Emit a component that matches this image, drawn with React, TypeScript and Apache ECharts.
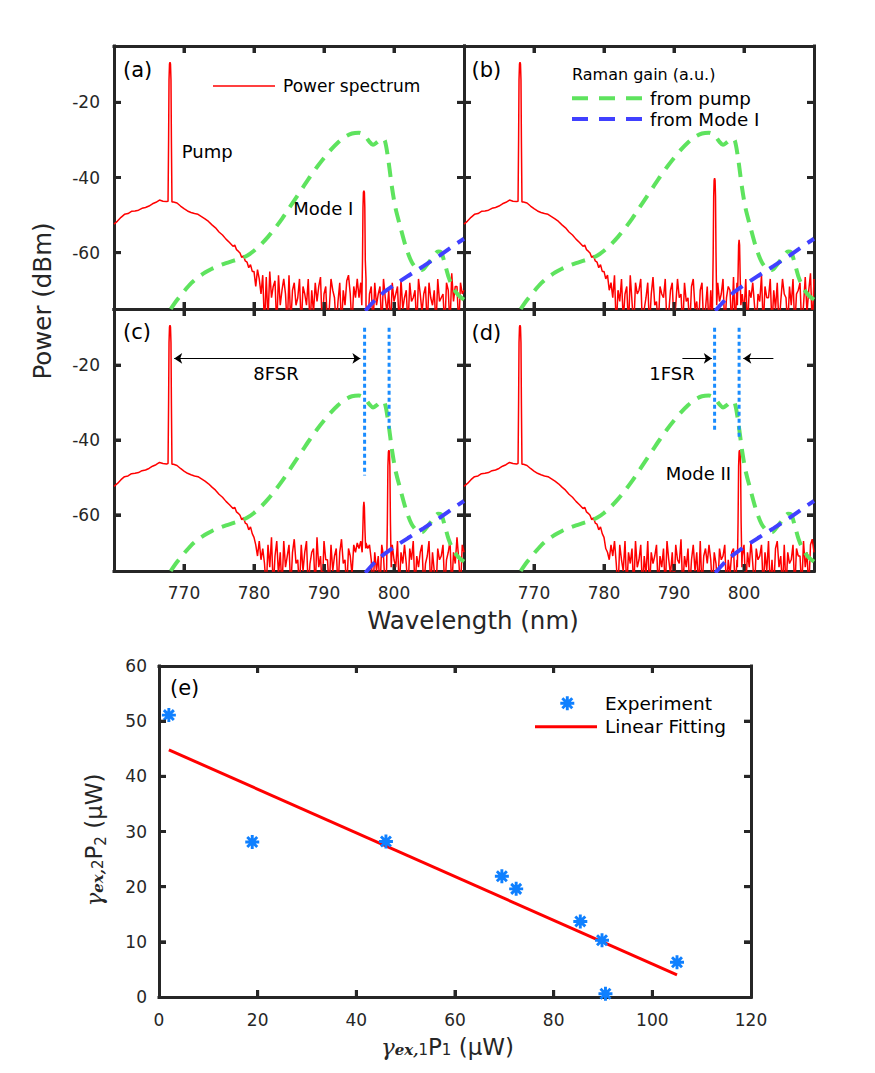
import React, { useEffect, useRef } from "react";
import * as echarts from "echarts";

// ---------- spectra, panels (a)-(d) ----------
const wlRange = [760, 810];
const dbmRange = [-75, -5];
const wlTicks = [770, 780, 790, 800];
const dbmTicks = [-60, -40, -20];

// broadband skirt around the pump (same in every panel)
const skirtWl = [
  760, 760.5, 761, 761.5, 762, 762.5, 763, 763.5, 764, 764.5, 765, 765.5, 766, 766.5, 767, 767.5,
  768.5, 769, 769.5, 770, 770.5, 771, 771.5, 772, 772.5, 773, 773.5, 774, 774.5, 775, 775.5, 776, 776.5, 777,
  777.25, 777.5, 777.75, 778, 778.25, 778.5, 778.75, 779, 779.25, 779.5, 779.75,
];
const skirtDbm = [
  -52.4, -51.6, -50.6, -49.8, -49.6, -49.0, -48.9, -48.7, -48.2, -48.0, -47.6, -47.0, -46.6, -46.0, -46.3, -46.4,
  -46.5, -46.8, -47.6, -48.3, -48.9, -49.3, -49.6, -49.8, -50.4, -51.0, -51.7, -52.6, -53.4, -54.5, -55.3, -56.4, -57.3, -58.3,
  -58.0, -59.2, -59.6, -60.1, -61.3, -60.8, -62.2, -62.5, -64.0, -63.2, -65.0,
];

// pump line
const pumpWl = [767.72, 767.8, 767.86, 767.93, 768.0, 768.07, 768.14, 768.2, 768.28];
const pumpDbm = [-46.3, -30, -14, -9.8, -9.3, -9.8, -14, -30, -46.5];

// OSA noise floor, 780 nm .. 810 nm every 0.25 nm
const noiseStart = 780;
const noiseStep = 0.25;
const noiseA = [
  -65, -69, -64.5, -67, -71, -66, -80, -66.5,
  -78, -65, -72, -69, -67.5, -80, -66, -74,
  -70, -67, -71, -80, -66, -79, -70, -68,
  -74, -72, -67, -80, -69, -71, -74, -67,
  -80, -70, -76, -68, -73, -69, -66.5, -80,
  -71, -69, -80, -75, -67, -70, -72, -80,
  -73, -68, -80, -70, -74, -67.5, -66, -71,
  -80, -69, -72, -67, -72, -68, -70, -71,
  -67, -80, -71, -69, -80, -68, -74, -71,
  -69, -80, -67, -72, -76, -70, -80, -68,
  -73, -71, -69, -80, -67, -75, -72, -70,
  -80, -68, -73, -72, -70, -80, -67, -71,
  -76, -71, -69, -80, -68, -72, -74, -70,
  -80, -67, -73, -72, -71, -80, -68, -70,
  -80, -65.5, -73, -69, -69, -80, -68, -71,
  -70,
];
const noiseB = [
  -65, -67, -66, -70, -68, -72, -66, -80,
  -70, -73, -67, -78, -71, -69, -80, -66,
  -73, -80, -68, -71, -70, -67, -80, -75,
  -72, -68, -80, -71, -66.5, -74, -73, -80,
  -69, -71, -72, -67, -80, -76, -70, -68,
  -80, -74, -67, -72, -71, -80, -68, -73,
  -72, -80, -69, -67, -75, -73, -80, -70,
  -68, -80, -75, -69, -80, -70, -80, -72,
  -80, -68, -73, -71, -67, -80, -72, -69,
  -70, -80, -66.5, -80, -68, -73, -80, -71,
  -76, -67, -80, -70, -72, -68, -74, -80,
  -71, -73, -66, -80, -69, -72, -72, -67,
  -80, -70, -75, -68, -80, -73, -67, -71,
  -72, -80, -69, -74, -67, -80, -71, -70,
  -68, -80, -74, -66.5, -76, -70, -65.5, -80,
  -67,
];
const noiseC = [
  -66, -68, -71, -67, -72, -69, -73, -80,
  -68, -74, -66, -80, -71, -67, -76, -70,
  -80, -67, -74, -71, -68, -80, -70, -66.5,
  -73, -72, -80, -68, -75, -70, -67, -80,
  -73, -70, -69, -80, -66, -74, -71, -80,
  -67, -72, -72, -80, -68, -75, -71, -69,
  -80, -70, -66.5, -73, -72, -80, -69, -71,
  -76, -68, -70, -67.5, -69, -67, -68, -67,
  -67.5, -69, -68, -72, -80, -70, -75, -71,
  -80, -68, -71, -80, -69, -70, -80, -68,
  -72, -74, -67, -80, -70, -73, -68, -73,
  -80, -69, -72, -67, -80, -71, -74, -70,
  -68, -80, -73, -71, -67, -80, -70, -75,
  -80, -69, -72, -71, -68, -80, -72, -70,
  -67, -80, -70, -73, -66, -72, -80, -68,
  -70,
];
const noiseD = [
  -66, -69, -70, -72, -68, -71, -67, -73,
  -80, -68, -72, -75, -67, -80, -70, -73,
  -69, -80, -67, -74, -72, -68, -80, -71,
  -76, -67, -80, -70, -73, -71, -68, -80,
  -71, -74, -69, -80, -67, -72, -76, -70,
  -80, -68, -72, -73, -66.5, -80, -71, -74,
  -69, -80, -72, -68, -75, -70, -80, -67,
  -80, -71, -69, -73, -68, -72, -80, -70,
  -73, -80, -69, -72, -71, -68, -80, -72,
  -76, -70, -69, -80, -72, -80, -80, -71,
  -68, -80, -70, -74, -67, -73, -80, -69,
  -72, -71, -68, -80, -70, -75, -67, -80,
  -72, -80, -69, -67, -74, -71, -80, -68,
  -80, -70, -73, -72, -68, -80, -69, -71,
  -71, -80, -67, -74, -70, -80, -68, -66.5,
  -70,
];

// resonance lines [wavelength, dBm]
const modeA = [[795.4, -74], [795.5, -62], [795.57, -48], [795.63, -44], [795.7, -43.5], [795.77, -44], [795.83, -48], [795.9, -62], [796.0, -74]];
const modeB1 = [[795.5, -74], [795.6, -60], [795.67, -45], [795.73, -40.8], [795.8, -40.2], [795.87, -40.8], [795.93, -45], [796.0, -60], [796.1, -74]];
const modeB2 = [[799.05, -74], [799.15, -66], [799.23, -58], [799.3, -56.6], [799.37, -58], [799.45, -66], [799.55, -74]];
const modeC1 = [[795.45, -70], [795.55, -64], [795.63, -58], [795.7, -56.5], [795.77, -58], [795.85, -64], [795.95, -69]];
const modeC2 = [[798.95, -74], [799.05, -62], [799.13, -47], [799.2, -43.2], [799.27, -42.7], [799.34, -43.2], [799.41, -47], [799.49, -62], [799.6, -74]];
const modeD = [[799.05, -74], [799.15, -62], [799.23, -47], [799.3, -43.2], [799.37, -42.7], [799.44, -43.2], [799.51, -47], [799.59, -62], [799.7, -74]];

// Raman gain profiles (a.u., drawn on the dBm scale)
const gainPumpWl = [
  768.1, 769, 770, 771, 772, 773, 774, 775, 776, 777, 778, 779, 780, 781, 782, 783, 784, 785, 786, 787, 788, 789,
  790, 791, 792, 793, 794, 795, 795.8, 796.5, 797, 797.6, 798.3, 798.7, 799.2, 799.7, 800.2, 800.9, 801.7, 802.5,
  803.3, 804, 804.8, 805.6, 806.3, 806.7, 807.2, 807.8, 808.5, 809.2, 810,
];
const gainPumpVal = [
  -75, -72.6, -70.3, -68.2, -66.6, -65.3, -64.3, -63.5, -62.8, -62.2, -61.6, -60.8, -59.5, -57.8, -55.8, -53.5, -51, -48.2,
  -45.4, -42.6, -39.8, -37.2, -34.8, -32.6, -30.7, -29.2, -28.3, -28.1, -28.8, -30.5, -31.3, -30.6, -29.6, -30.2, -35.5,
  -42.5, -48, -53.1, -58.5, -62.4, -64.3, -64.6, -63, -61.1, -59.7, -59.8, -62.5, -66.5, -69.5, -71.3, -72.5,
];
const gainModeWl = [795.9, 796.6, 797.3, 798.5, 800, 802, 804.2, 806.5, 808.7, 810];
const gainModeVal = [-75.5, -74, -72.6, -70.6, -68.6, -66.2, -63.6, -60.8, -57.9, -56.3];

// FSR markers in (c) and (d)
const fsrWl = [795.8, 799.3];
const fsrTop = -10;
const fsrBottomC = [-49.5, -37];
const fsrBottomD = [-37.5, -39.5];
const arrowY = -18.2;
const arrowC = [768.6, 795.2];
const arrowDLeft = [791.2, 795.4];
const arrowDRight = [804.2, 799.9];

// ---------- panel (e) ----------
const pRange = [0, 120];
const qRange = [0, 60];
const pTicks = [20, 40, 60, 80, 100];
const qTicks = [10, 20, 30, 40, 50];
const expX = [2, 18.9, 46, 69.5, 72.4, 85.4, 89.8, 90.5, 105];
const expY = [51.1, 28.1, 28.2, 21.9, 19.6, 13.7, 10.3, 0.6, 6.3];
const fitX = [2, 105];
const fitY = [44.8, 4.0];

// eight-armed asterisk marker in a 24x24 box
const ASTERISK =
  "M0,9.5H24V14.5H0Z M9.5,0H14.5V24H9.5Z M5.23,1.7L22.3,18.77L18.77,22.3L1.7,5.23Z M18.77,1.7L22.3,5.23L5.23,22.3L1.7,18.77Z";
echarts.graphic.registerShape("asterisk", echarts.graphic.extendPath(ASTERISK, {}));

const AXIS = "#262626";
const RED = "#ff0000";
const GREEN = "#5ee35e";
const BLUE = "#4040ff";
const DOT_BLUE = "#1a8cff";
const STAR_BLUE = "#0f80ff";
const SANS = "DejaVu Sans";
const SERIF = "DejaVu Serif";
const DASH = [14, 9];
const TICK_LEN = 7;
const TICK_W = 3;

function buildSpectrum(noise: number[], peaks: number[][][]) {
  const pts: number[][] = skirtWl.map((w, i) => [w, skirtDbm[i]]);
  pumpWl.forEach((w, i) => pts.push([w, pumpDbm[i]]));
  const spans = peaks.map((pk) => [pk[0][0], pk[pk.length - 1][0]]);
  noise.forEach((v, i) => {
    const w = noiseStart + i * noiseStep;
    if (!spans.some(([a, b]) => w > a && w < b)) pts.push([w, v]);
  });
  peaks.forEach((pk) => pk.forEach((p) => pts.push(p)));
  return pts.sort((p, q) => p[0] - q[0]);
}

const spectra = [
  buildSpectrum(noiseA, [modeA]),
  buildSpectrum(noiseB, [modeB1, modeB2]),
  buildSpectrum(noiseC, [modeC1, modeC2]),
  buildSpectrum(noiseD, [modeD]),
];

const panelGrids = [
  { left: 114, top: 46, width: 350, height: 263 },
  { left: 464, top: 46, width: 350, height: 263 },
  { left: 114, top: 309, width: 350, height: 262 },
  { left: 464, top: 309, width: 350, height: 262 },
];
const gridE = { left: 159, top: 666, width: 592, height: 331 };

const frameLine = { show: true, onZero: false, lineStyle: { color: AXIS, width: 3, cap: "square" } };

function text(x: number, y: number, t: string, size: number, extra: any = {}) {
  return {
    type: "text",
    x,
    y,
    silent: true,
    z: 10,
    style: {
      text: t,
      fontSize: size,
      fontFamily: SANS,
      fill: "#000",
      align: "left",
      verticalAlign: "middle",
      textAlign: "left",
      textVerticalAlign: "middle",
      ...extra,
    },
  };
}

function hline(x1: number, x2: number, y: number, color: string, width: number, dash?: number[]) {
  return {
    type: "line",
    silent: true,
    z: 10,
    shape: { x1, y1: y, x2, y2: y },
    style: { stroke: color, lineWidth: width, lineDash: dash },
  };
}

function tickRect(x: number, y: number, w: number, h: number) {
  return { type: "rect", silent: true, z: 60, shape: { x, y, width: w, height: h }, style: { fill: AXIS } };
}

function valueAxis(
  gridIndex: number,
  pos: string,
  range: number[],
  labelShow: boolean,
  tickValues: number[] | null,
  margin: number
) {
  const label: any = { show: labelShow, margin, fontSize: 17, color: AXIS, fontFamily: SANS };
  const tick: any = { show: true, inside: true, length: TICK_LEN, lineStyle: { color: AXIS, width: TICK_W } };
  if (tickValues) {
    label.customValues = tickValues;
    tick.customValues = tickValues;
  }
  return {
    type: "value",
    gridIndex,
    position: pos,
    min: range[0],
    max: range[1],
    axisLine: frameLine,
    splitLine: { show: false },
    axisTick: tick,
    axisLabel: label,
  };
}

function buildOption() {
  const grid: any[] = [];
  const xAxis: any[] = [];
  const yAxis: any[] = [];
  const series: any[] = [];

  panelGrids.forEach((g, i) => {
    grid.push({ ...g, show: false });
    xAxis.push(valueAxis(i, "bottom", wlRange, i >= 2, wlTicks, 13));
    xAxis.push(valueAxis(i, "top", wlRange, false, wlTicks, 13));
    yAxis.push(valueAxis(i, "left", dbmRange, i % 2 === 0, dbmTicks, 14));
    yAxis.push(valueAxis(i, "right", dbmRange, false, dbmTicks, 14));

    const ax = { xAxisIndex: 2 * i, yAxisIndex: 2 * i };
    series.push({
      type: "line",
      ...ax,
      data: spectra[i],
      symbol: "none",
      silent: true,
      lineStyle: { color: RED, width: 1.5 },
      z: 2,
    });
    series.push({
      type: "line",
      ...ax,
      data: gainPumpWl.map((w, k) => [w, gainPumpVal[k]]),
      symbol: "none",
      silent: true,
      smooth: 0.3,
      lineStyle: { color: GREEN, width: 4, type: DASH },
      z: 3,
    });
    series.push({
      type: "line",
      ...ax,
      data: gainModeWl.map((w, k) => [w, gainModeVal[k]]),
      symbol: "none",
      silent: true,
      lineStyle: { color: BLUE, width: 4, type: DASH },
      z: 4,
    });

    if (i >= 2) {
      const bottoms = i === 2 ? fsrBottomC : fsrBottomD;
      fsrWl.forEach((w, k) => {
        const s: any = {
          type: "line",
          ...ax,
          data: [
            [w, fsrTop],
            [w, bottoms[k]],
          ],
          symbol: "none",
          silent: true,
          lineStyle: { color: DOT_BLUE, width: 3, type: [4, 3] },
          z: 5,
        };
        if (k === 0) {
          const arrowData =
            i === 2
              ? [[{ coord: [arrowC[0], arrowY], symbol: "arrow" }, { coord: [arrowC[1], arrowY], symbol: "arrow" }]]
              : [
                  [{ coord: [arrowDLeft[0], arrowY], symbol: "none" }, { coord: [arrowDLeft[1], arrowY], symbol: "arrow" }],
                  [{ coord: [arrowDRight[0], arrowY], symbol: "none" }, { coord: [arrowDRight[1], arrowY], symbol: "arrow" }],
                ];
          s.markLine = {
            silent: true,
            symbolSize: 8,
            label: { show: false },
            emphasis: { disabled: true },
            lineStyle: { color: "#000", width: 1, type: "solid" },
            data: arrowData,
          };
        }
        series.push(s);
      });
    }
  });

  // panel (e)
  grid.push({ ...gridE, show: false });
  xAxis.push({ ...valueAxis(4, "bottom", pRange, true, null, 14), interval: 20 });
  xAxis.push({ ...valueAxis(4, "top", pRange, false, null, 14), interval: 20 });
  yAxis.push({ ...valueAxis(4, "left", qRange, true, null, 12), interval: 10 });
  yAxis.push({ ...valueAxis(4, "right", qRange, false, null, 12), interval: 10 });
  series.push({
    type: "line",
    xAxisIndex: 8,
    yAxisIndex: 8,
    data: fitX.map((x, k) => [x, fitY[k]]),
    symbol: "none",
    silent: true,
    lineStyle: { color: RED, width: 3 },
    z: 2,
  });
  series.push({
    type: "scatter",
    xAxisIndex: 8,
    yAxisIndex: 8,
    data: expX.map((x, k) => [x, expY[k]]),
    symbol: "path://" + ASTERISK,
    symbolSize: 14,
    silent: true,
    itemStyle: { color: STAR_BLUE, opacity: 1 },
    z: 3,
  });

  return {
    animation: false,
    backgroundColor: "#ffffff",
    grid,
    xAxis,
    yAxis,
    series,
  };
}

function buildGraphic(chart: echarts.ECharts) {
  const starSize = 14;
  const graphic: any[] = [
    text(123, 70, "(a)", 21),
    text(471.5, 70, "(b)", 21),
    text(123, 332, "(c)", 21),
    text(471.5, 333, "(d)", 21),
    text(181.7, 151.7, "Pump", 18),
    text(293.3, 208.3, "Mode I", 18),
    text(253.3, 373.3, "8FSR", 18),
    text(649.3, 373.3, "1FSR", 18),
    text(665.7, 473.3, "Mode II", 18),
    // legend (a)
    hline(213, 275, 86, RED, 1.5),
    text(283, 86, "Power spectrum", 17),
    // legend (b)
    text(572, 74, "Raman gain (a.u.)", 16),
    hline(572, 642, 98.3, GREEN, 4, [16, 11]),
    text(650, 98.3, "from pump", 18.3),
    hline(572, 642, 119, BLUE, 4, [16, 11]),
    text(650, 119, "from Mode I", 18.3),
    // axis titles, spectra
    {
      type: "text",
      x: 42,
      y: 301,
      rotation: Math.PI / 2,
      silent: true,
      style: {
        text: "Power (dBm)",
        fontSize: 24.5,
        fontFamily: SANS,
        fill: AXIS,
        align: "center",
        verticalAlign: "middle",
        textAlign: "center",
        textVerticalAlign: "middle",
      },
    },
    text(473, 620, "Wavelength (nm)", 24.5, { fill: AXIS, align: "center", textAlign: "center" }),
    // panel (e)
    text(170, 688, "(e)", 21),
    {
      type: "asterisk",
      x: 567.3 - starSize / 2,
      y: 703.3 - starSize / 2,
      scaleX: starSize / 24,
      scaleY: starSize / 24,
      silent: true,
      z: 10,
      style: { fill: STAR_BLUE },
    },
    text(605, 703.3, "Experiment", 18.5),
    hline(535, 597, 726.7, RED, 3),
    text(605, 726.7, "Linear Fitting", 18.5),
    {
      type: "text",
      x: 447.5,
      y: 1046.7,
      silent: true,
      style: {
        text: "{g|γ}{s|ex,}{s2|1}{n|P}{t|1}{n| (μW)}",
        fill: AXIS,
        align: "center",
        verticalAlign: "middle",
        textAlign: "center",
        textVerticalAlign: "middle",
        rich: {
          g: { fontFamily: SERIF, fontStyle: "italic", fontSize: 23, fill: AXIS },
          s: { fontFamily: SERIF, fontStyle: "italic", fontWeight: "bold", fontSize: 15, fill: AXIS, padding: [7, 0, 0, 0] },
          s2: { fontFamily: SANS, fontSize: 15, fill: AXIS, padding: [7, 0, 0, 0] },
          n: { fontFamily: SANS, fontSize: 23, fill: AXIS },
          t: { fontFamily: SANS, fontSize: 15, fill: AXIS, padding: [7, 0, 0, 0] },
        },
      },
    },
    {
      type: "text",
      x: 94,
      y: 840,
      rotation: Math.PI / 2,
      silent: true,
      style: {
        text: "{g|γ}{s|ex,}{s2|2}{n|P}{t|2}{n| (μW)}",
        fill: AXIS,
        align: "center",
        verticalAlign: "middle",
        textAlign: "center",
        textVerticalAlign: "middle",
        rich: {
          g: { fontFamily: SERIF, fontStyle: "italic", fontSize: 23, fill: AXIS },
          s: { fontFamily: SERIF, fontStyle: "italic", fontWeight: "bold", fontSize: 15, fill: AXIS, padding: [7, 0, 0, 0] },
          s2: { fontFamily: SANS, fontSize: 15, fill: AXIS, padding: [7, 0, 0, 0] },
          n: { fontFamily: SANS, fontSize: 23, fill: AXIS },
          t: { fontFamily: SANS, fontSize: 15, fill: AXIS, padding: [14, 0, 0, 0] },
        },
      },
    },
  ];

  // filled inward tick marks on all four sides of every frame, placed through each grid's scales
  const frames = [
    ...panelGrids.map((_, i) => ({ gridIndex: i, xr: wlRange, yr: dbmRange, xt: wlTicks, yt: dbmTicks })),
    { gridIndex: 4, xr: pRange, yr: qRange, xt: pTicks, yt: qTicks },
  ];
  const hw = TICK_W / 2;
  frames.forEach((f) => {
    const toPx = (v: number[]) => chart.convertToPixel({ gridIndex: f.gridIndex }, v) as number[];
    f.xt.forEach((x) => {
      const b = toPx([x, f.yr[0]]);
      const t = toPx([x, f.yr[1]]);
      if (b) graphic.push(tickRect(b[0] - hw, b[1] - TICK_LEN, TICK_W, TICK_LEN));
      if (t) graphic.push(tickRect(t[0] - hw, t[1], TICK_W, TICK_LEN));
    });
    f.yt.forEach((y) => {
      const l = toPx([f.xr[0], y]);
      const r = toPx([f.xr[1], y]);
      if (l) graphic.push(tickRect(l[0], l[1] - hw, TICK_LEN, TICK_W));
      if (r) graphic.push(tickRect(r[0] - TICK_LEN, r[1] - hw, TICK_LEN, TICK_W));
    });
  });
  return graphic;
}

export default function App() {
  const ref = useRef<HTMLDivElement>(null);
  useEffect(() => {
    if (!ref.current) return;
    const chart = echarts.init(ref.current, null, { renderer: "svg" });
    chart.setOption(buildOption() as any);
    chart.setOption({ graphic: buildGraphic(chart) } as any);
    return () => chart.dispose();
  }, []);
  return (
    <div
      ref={ref}
      style={{ position: "absolute", left: 0, top: 0, width: 875, height: 1073, background: "#fff" }}
    />
  );
}
